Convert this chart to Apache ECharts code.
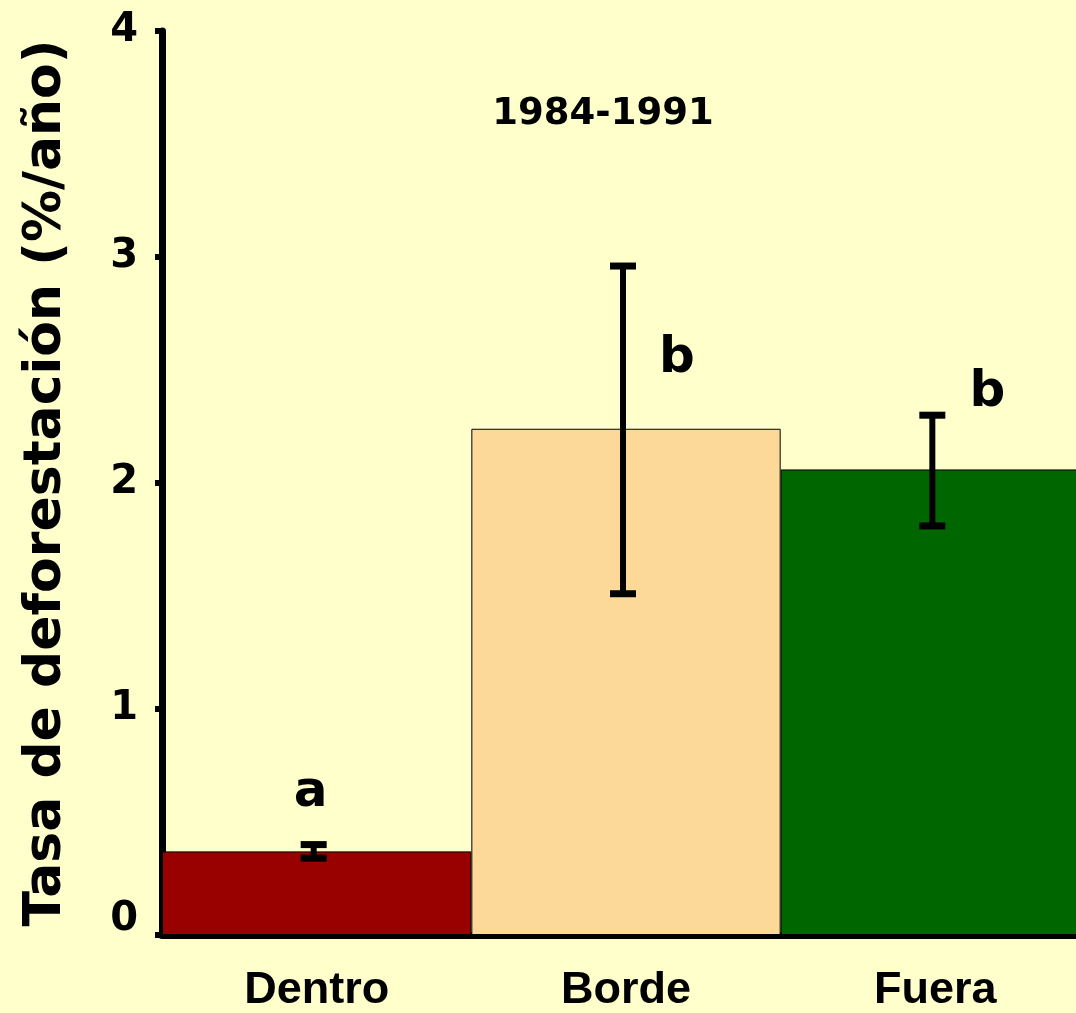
<!DOCTYPE html>
<html>
<head>
<meta charset="utf-8">
<script src="https://cdn.jsdelivr.net/npm/echarts@6/dist/echarts.min.js"></script>
<style>
  html, body { margin: 0; padding: 0; background: #FFFFCC; overflow: hidden; }
  /* the plot runs a little past the right edge of the page, so the last bar is cut off */
  #chart { width: 1090px; height: 1013px; }
</style>
</head>
<body>
<div id="chart"></div>
<script>
// Deforestation rate by zone, 1984-1991
const categories = ['Dentro', 'Borde', 'Fuera'];
const rates = [0.37, 2.24, 2.06];
const errLow = [0.34, 1.51, 1.81];
const errHigh = [0.40, 2.96, 2.30];
const sigLetters = ['a', 'b', 'b'];
const sigLetterY = [0.63, 2.55, 2.40];
const yTicks = [0, 1, 2, 3, 4];
const periodLabel = '1984-1991';
const yAxisTitle = 'Tasa de deforestación (%/año)';

const barColors = ['#990000', '#FCD998', '#006600'];
const FONT = "'Comic Sans MS', 'DejaVu Sans', sans-serif";
const LABEL_FONT = "'Comic Sans MS', 'Liberation Sans', sans-serif";
const errShiftX = -3;
const letterShiftX = [-6, 51, 52];

const chart = echarts.init(document.getElementById('chart'), null, { renderer: 'canvas' });

const option = {
  backgroundColor: '#FFFFCC',
  animation: false,
  grid: { left: 162, right: 0, top: 31, bottom: 77, containLabel: false },
  graphic: [{
    type: 'text',
    x: 603, y: 114,
    style: {
      text: periodLabel,
      font: 'bold 37px ' + FONT,
      fill: '#000',
      textAlign: 'center',
      textVerticalAlign: 'middle'
    }
  }],
  xAxis: {
    type: 'category',
    data: categories,
    axisLine: { lineStyle: { color: '#000', width: 7 } },
    axisTick: { show: false },
    axisLabel: { color: '#000', fontSize: 45, fontWeight: 'bold', fontFamily: LABEL_FONT, margin: 33 },
    splitLine: { show: false }
  },
  yAxis: {
    type: 'value',
    min: yTicks[0],
    max: yTicks[yTicks.length - 1],
    interval: 1,
    name: yAxisTitle,
    nameLocation: 'middle',
    nameGap: 90,
    nameTextStyle: { color: '#000', fontSize: 52, fontWeight: 'bold', fontFamily: FONT },
    axisLine: { show: true, lineStyle: { color: '#000', width: 7 } },
    axisTick: { show: true, length: 7, lineStyle: { color: '#000', width: 6 } },
    axisLabel: {
      color: '#000', fontSize: 40, fontWeight: 'bold', fontFamily: FONT, margin: 24,
      formatter: v => v === 0 ? '{z|0}' : String(v),
      rich: { z: { fontSize: 40, fontWeight: 'bold', fontFamily: FONT, color: '#000', padding: [0, 0, 30, 0] } }
    },
    splitLine: { show: false }
  },
  series: [
    {
      type: 'bar',
      barCategoryGap: '0%',
      data: rates.map((v, i) => ({
        value: v,
        itemStyle: { color: barColors[i], borderColor: '#000', borderWidth: 1 }
      })),
      z: 2
    },
    {
      type: 'custom',
      z: 5,
      data: categories.map((c, i) => [i, errLow[i], errHigh[i]]),
      renderItem: function (params, api) {
        const lo = api.coord([api.value(0), api.value(1)]);
        const hi = api.coord([api.value(0), api.value(2)]);
        const x = lo[0] + errShiftX;
        const capHalf = 13;
        const capStyle = { stroke: '#000', lineWidth: 7 };
        return {
          type: 'group',
          children: [
            { type: 'line', shape: { x1: x, y1: hi[1], x2: x, y2: lo[1] }, style: { stroke: '#000', lineWidth: 6 } },
            { type: 'line', shape: { x1: x - capHalf, y1: hi[1], x2: x + capHalf, y2: hi[1] }, style: capStyle },
            { type: 'line', shape: { x1: x - capHalf, y1: lo[1], x2: x + capHalf, y2: lo[1] }, style: capStyle }
          ]
        };
      }
    },
    {
      type: 'custom',
      z: 6,
      data: categories.map((c, i) => [i, sigLetterY[i]]),
      renderItem: function (params, api) {
        const p = api.coord([api.value(0), api.value(1)]);
        return {
          type: 'text',
          x: p[0] + letterShiftX[params.dataIndex],
          y: p[1],
          style: {
            text: sigLetters[params.dataIndex],
            font: 'bold 50px ' + FONT,
            fill: '#000',
            textAlign: 'center',
            textVerticalAlign: 'middle'
          }
        };
      }
    }
  ]
};

chart.setOption(option);
</script>
</body>
</html>
